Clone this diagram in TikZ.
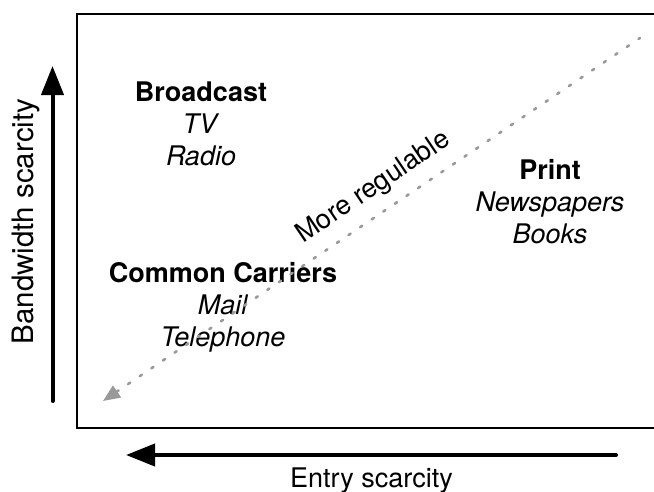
\documentclass[tikz,border=0pt]{standalone}
\usepackage{fontspec}
\setmainfont{TeX Gyre Heros}
\usepackage{tikz}
\usetikzlibrary{arrows.meta}

\begin{document}
\begin{tikzpicture}[
  x=1pt, y=-1pt,
  every node/.style={font=\fontsize{27}{32}\selectfont, inner sep=0pt},
  grp/.style={align=center, anchor=north},
  axis/.style={line width=4pt, line cap=round, -{Triangle[length=29pt,width=22pt]}},
  regline/.style={black!40, line width=2.6pt, line cap=round,
    dash pattern=on 2.5pt off 11.5pt, {Triangle[length=17pt,width=14pt]}-}
]
\useasboundingbox (0,0) rectangle (654,491);
% Frame (right side runs off the page)
\draw[line width=2.7pt] (654,14) -- (77,14) -- (77,428) -- (654,428);
% Axes
\coordinate (bwLow) at (52.5,401);
\coordinate (bwHigh) at (52.5,66);
\coordinate (esRight) at (616,455);
\coordinate (esLeft) at (126,455);
\draw[axis] (bwLow) -- (bwHigh);
\draw[axis] (esRight) -- (esLeft);
\node[rotate=90, anchor=base, font=\fontsize{29.5}{34}\selectfont] (bwlabel) at (34,221.5) {Bandwidth scarcity};
\node[anchor=base] (eslabel) at (371.5,487) {Entry scarcity};
% Media groups
\node[grp] (broadcast) at (201,82) {\textbf{Broadcast}\\\textit{TV}\\\textit{Radio}};
\node[grp] (print) at (550,159) {\textbf{Print}\\\textit{Newspapers}\\\textit{Books}};
\node[grp] (carriers) at (223,262) {\textbf{Common Carriers}\\\textit{Mail}\\\textit{Telephone}};
% Regulability diagonal
\coordinate (regLow) at (103,401);
\coordinate (regHigh) at (640,38);
\draw[regline] (regLow) -- node[pos=0.53, sloped, above=11pt, text=black] (reglabel) {More regulable} (regHigh);
\end{tikzpicture}
\end{document}
